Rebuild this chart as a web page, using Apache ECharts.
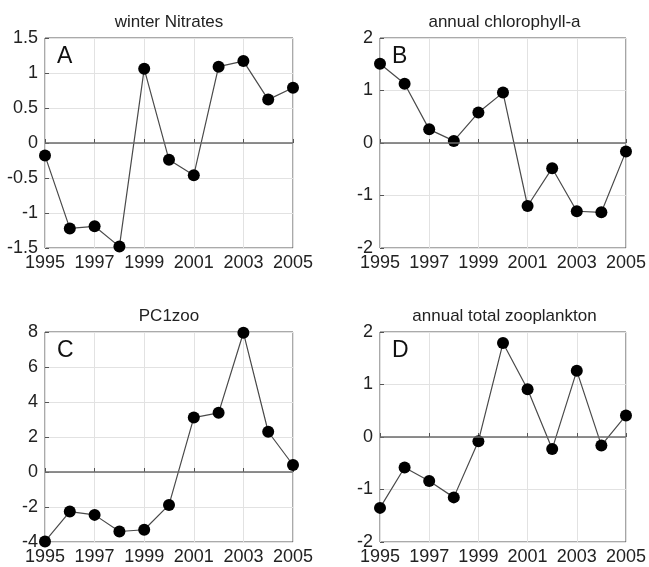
<!DOCTYPE html>
<html>
<head>
<meta charset="utf-8">
<script src="https://cdn.jsdelivr.net/npm/echarts@6/dist/echarts.min.js"></script>
<style>
html,body{margin:0;padding:0;background:#fff;}
#chart{width:649px;height:567px;}
</style>
</head>
<body>
<div id="chart"></div>
<script>
const years = ['1995','1996','1997','1998','1999','2000','2001','2002','2003','2004','2005'];
const titles = ['winter Nitrates','annual chlorophyll-a','PC1zoo','annual total zooplankton'];
const letters = ['A','B','C','D'];
const nitrates = [-0.18,-1.22,-1.19,-1.48,1.06,-0.24,-0.46,1.09,1.17,0.62,0.79];
const chlorophyll = [1.51,1.13,0.26,0.04,0.58,0.96,-1.20,-0.48,-1.30,-1.32,-0.16];
const pc1zoo = [-3.97,-2.26,-2.45,-3.40,-3.30,-1.88,3.11,3.38,7.96,2.30,0.40];
const zooplankton = [-1.35,-0.58,-0.84,-1.15,-0.08,1.79,0.91,-0.23,1.26,-0.16,0.41];
const yMin = [-1.5,-2,-4,-2];
const yMax = [1.5,2,8,2];
const yInterval = [0.5,1,2,1];
const seriesData = [nitrates, chlorophyll, pc1zoo, zooplankton];

const grids = [
  {left:45, top:38, width:248, height:210},
  {left:380, top:38, width:249, height:210},
  {left:45, top:332, width:248, height:210},
  {left:380, top:332, width:249, height:210}
];
const FONT = 'Liberation Sans, Arial, Helvetica, sans-serif';

const option = {
  backgroundColor:'#fff',
  animation:false,
  title: [],
  grid: grids.map(g => Object.assign({show:true, borderColor:'#555', borderWidth:1, containLabel:false}, g)),
  xAxis: [], yAxis: [], series: []
};

grids.forEach((g,i) => {
  option.title.push({
    text: titles[i], left: g.left + g.width/2, top: g.top - 24,
    textAlign:'center', textVerticalAlign:'top', padding:0,
    textStyle:{fontFamily:FONT, fontSize:17, fontWeight:'normal', color:'#222'}
  });
  option.title.push({
    text: letters[i], left: g.left + 12, top: g.top + 7, padding:0,
    textAlign:'left', textVerticalAlign:'top',
    textStyle:{fontFamily:FONT, fontSize:23, fontWeight:'normal', color:'#111'}
  });
  option.xAxis.push({
    type:'category', gridIndex:i, data:years, boundaryGap:false,
    axisLine:{show:false},
    axisTick:{show:true, inside:true, length:4, interval:1, lineStyle:{color:'#555'}},
    axisLabel:{interval:1, margin:6, fontFamily:FONT, fontSize:18, color:'#222'},
    splitLine:{show:true, interval:1, lineStyle:{color:'#e2e2e2', width:1}}
  });
  option.yAxis.push({
    type:'value', gridIndex:i, min:yMin[i], max:yMax[i], interval:yInterval[i],
    axisLine:{show:false},
    axisTick:{show:true, inside:true, length:4, lineStyle:{color:'#555'}},
    axisLabel:{margin:7, fontFamily:FONT, fontSize:18, color:'#222'},
    splitLine:{show:true, lineStyle:{color:'#e2e2e2', width:1}}
  });
  option.series.push({
    type:'line', xAxisIndex:i, yAxisIndex:i, data:seriesData[i],
    symbol:'circle', symbolSize:12,
    lineStyle:{color:'#4a4a4a', width:1.2},
    itemStyle:{color:'#000'},
    markLine:{silent:true, symbol:['none','none'], label:{show:false},
      lineStyle:{color:'#6a6a6a', width:1.5, type:'solid'}, data:[{yAxis:0}]},
    z:3
  });
});

const chart = echarts.init(document.getElementById('chart'), null, {renderer:'canvas'});
chart.setOption(option);
</script>
</body>
</html>
